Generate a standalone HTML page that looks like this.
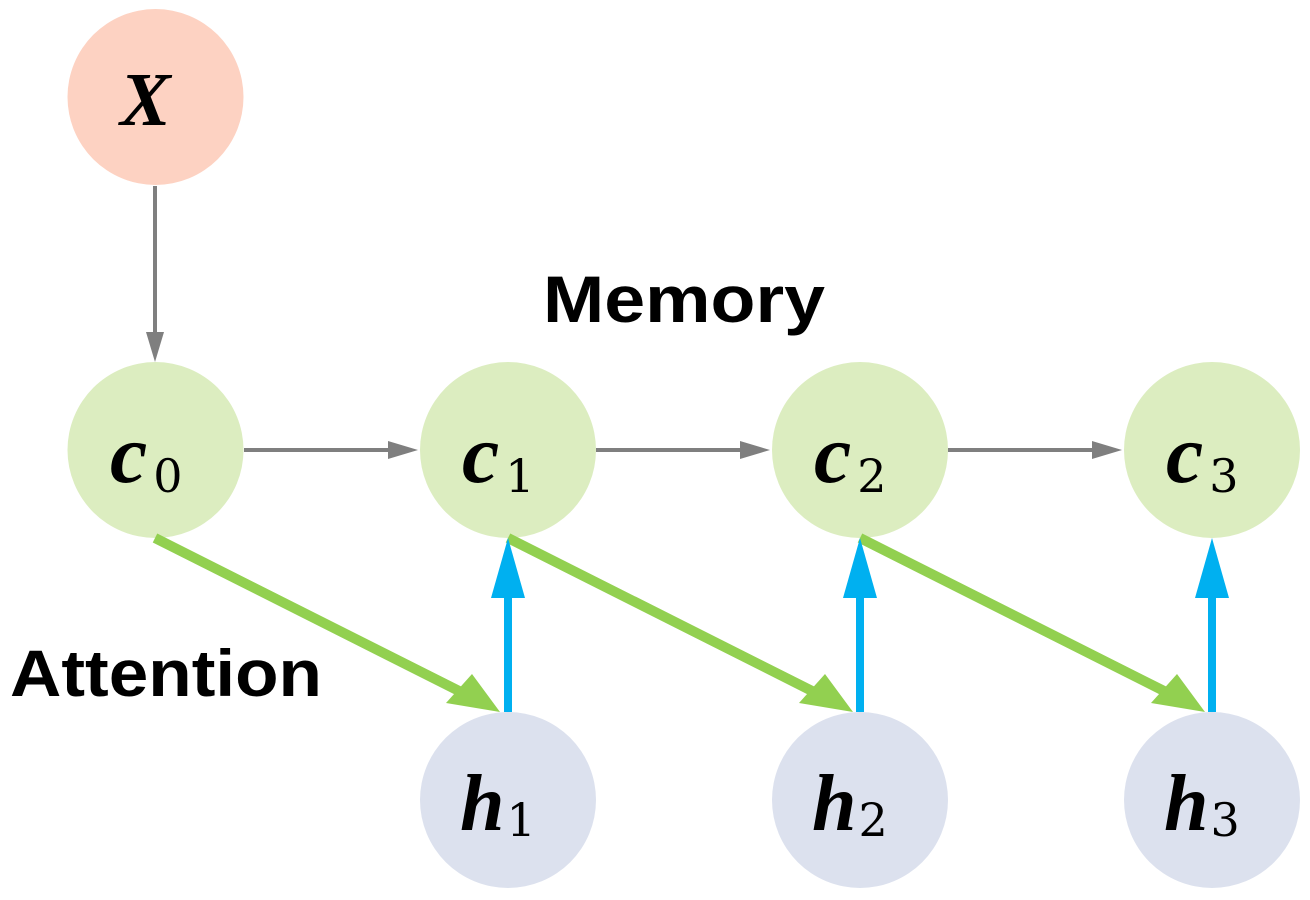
<!DOCTYPE html>
<html><head><meta charset="utf-8"><style>
html,body{margin:0;padding:0;background:#fff;}
svg{display:block;}
.m{font-family:"Liberation Serif",serif;font-weight:bold;font-style:italic;fill:#000;}
.s{font-family:"DejaVu Serif","Liberation Serif",serif;font-weight:normal;font-style:normal;}
.b{font-family:"Liberation Sans",sans-serif;font-weight:bold;fill:#000;}
</style></head><body>
<svg width="1310" height="900" viewBox="0 0 1310 900" xmlns="http://www.w3.org/2000/svg">
<circle cx="155.5" cy="97" r="88" fill="#fdd2c2"/>
<circle cx="155.5" cy="450" r="88" fill="#dcedc0"/>
<circle cx="508" cy="450" r="88" fill="#dcedc0"/>
<circle cx="860" cy="450" r="88" fill="#dcedc0"/>
<circle cx="1212" cy="450" r="88" fill="#dcedc0"/>
<circle cx="508" cy="800" r="88" fill="#dce1ee"/>
<circle cx="860" cy="800" r="88" fill="#dce1ee"/>
<circle cx="1212" cy="800" r="88" fill="#dce1ee"/>
<g stroke="#7f7f7f" stroke-width="4" fill="#7f7f7f">
<line x1="155" y1="186" x2="155" y2="338"/>
<path d="M146,332L155,362L164,332z" stroke="none"/>
<line x1="244" y1="450" x2="392" y2="450"/>
<path d="M388,441L418,450L388,459z" stroke="none"/>
<line x1="596" y1="450" x2="744" y2="450"/>
<path d="M740,441L770,450L740,459z" stroke="none"/>
<line x1="948" y1="450" x2="1096" y2="450"/>
<path d="M1092,441L1122,450L1092,459z" stroke="none"/>
</g>
<g stroke="#92d050" stroke-width="10" fill="#92d050">
<line x1="155" y1="538" x2="465" y2="694"/>
<path d="M500,712L446,703L472,674z" stroke="none"/>
<line x1="508" y1="538" x2="818" y2="694"/>
<path d="M853,712L799,703L825,674z" stroke="none"/>
<line x1="860" y1="538" x2="1170" y2="694"/>
<path d="M1205,712L1151,703L1177,674z" stroke="none"/>
</g>
<g stroke="#00b0f0" stroke-width="8" fill="#00b0f0">
<line x1="508" y1="712" x2="508" y2="595"/>
<path d="M508,538L525,598L491,598z" stroke="none"/>
<line x1="860" y1="712" x2="860" y2="595"/>
<path d="M860,538L877,598L843,598z" stroke="none"/>
<line x1="1212" y1="712" x2="1212" y2="595"/>
<path d="M1212,538L1229,598L1195,598z" stroke="none"/>
</g>
<text class="m" x="120" y="125" font-size="76">X</text>
<text class="m" x="110" y="482" font-size="84">c<tspan class="s" font-size="46" dx="6" dy="10">0</tspan></text>
<text class="m" x="462" y="482" font-size="84">c<tspan class="s" font-size="46" dx="6" dy="10">1</tspan></text>
<text class="m" x="814" y="482" font-size="84">c<tspan class="s" font-size="46" dx="6" dy="10">2</tspan></text>
<text class="m" x="1166" y="482" font-size="84">c<tspan class="s" font-size="46" dx="6" dy="10">3</tspan></text>
<text class="m" x="460" y="830" font-size="80">h<tspan class="s" font-size="46" dx="2" dy="6">1</tspan></text>
<text class="m" x="812" y="830" font-size="80">h<tspan class="s" font-size="46" dx="2" dy="6">2</tspan></text>
<text class="m" x="1164" y="830" font-size="80">h<tspan class="s" font-size="46" dx="2" dy="6">3</tspan></text>
<text class="b" x="543" y="322" font-size="66" textLength="282" lengthAdjust="spacingAndGlyphs">Memory</text>
<text class="b" x="10" y="696" font-size="66" textLength="312" lengthAdjust="spacingAndGlyphs">Attention</text>
</svg>
</body></html>
